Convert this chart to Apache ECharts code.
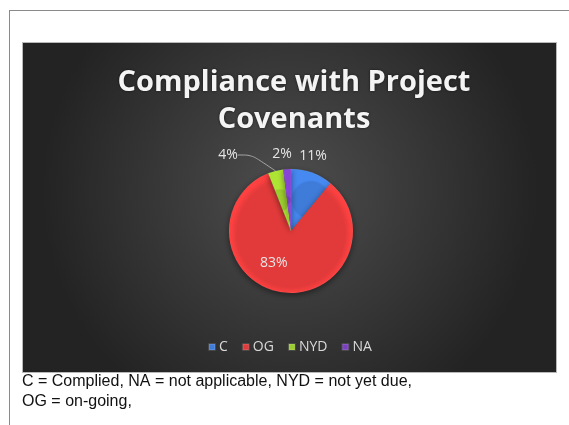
<!DOCTYPE html>
<html>
<head>
<meta charset="utf-8">
<script src="https://cdn.jsdelivr.net/npm/echarts@6/dist/echarts.min.js"></script>
<style>
html,body{margin:0;padding:0;background:#fff;}
#chart{width:569px;height:425px;}
</style>
</head>
<body>
<div id="chart"></div>
<script>
var categories = ['C', 'OG', 'NYD', 'NA'];
var values = [11, 83, 4, 2];
var colors = ['#3f7bd8', '#e23a3a', '#9ccd2f', '#7a3fc0'];
var titleText = 'Compliance with Project\nCovenants';
var noteLines = ['C = Complied, NA = not applicable, NYD = not yet due,', 'OG = on-going,'];

var chart = echarts.init(document.getElementById('chart'));

// label placement relative to the pie centre (offsets), styling only
var labelSettings = [
  {position: 'outside', line: false, lx: 22, ly: -75},
  {position: 'inside', line: false, dx: -12, dy: -2},
  {position: 'outside', line: true, lx: -63, ly: -76},
  {position: 'outside', line: false, lx: -9, ly: -77}
];
var pieCenter = [291, 231];

var data = categories.map(function (c, i) {
  var s = labelSettings[i];
  return {
    name: c,
    value: values[i],
    itemStyle: {
      color: {
        type: 'radial', x: 0.5, y: 0.5, r: 0.5,
        colorStops: [
          {offset: 0, color: colors[i]},
          {offset: 0.9, color: colors[i]},
          {offset: 1, color: echarts.color.lift(colors[i], -0.12)}
        ]
      }
    },
    label: {position: s.position},
    labelLine: {show: s.line}
  };
});

chart.setOption({
  animation: false,
  graphic: [
    {type: 'line', shape: {x1: 9.5, y1: 10, x2: 9.5, y2: 425}, style: {stroke: '#8a8a8a', lineWidth: 1}},
    {type: 'line', shape: {x1: 9, y1: 10.5, x2: 569, y2: 10.5}, style: {stroke: '#8a8a8a', lineWidth: 1}},
    {
      type: 'rect', z: -10,
      shape: {x: 22.5, y: 42.5, width: 534, height: 330},
      style: {
        fill: {
          type: 'radial', x: 0.5, y: 0.45, r: 0.75,
          colorStops: [
            {offset: 0, color: '#4e4e4e'},
            {offset: 1, color: '#232323'}
          ]
        },
        stroke: '#b8b8b8', lineWidth: 1
      }
    },
    {
      type: 'text', left: 22, top: 372,
      style: {
        text: noteLines.join('\n'),
        font: '16px "Liberation Sans", Arial, sans-serif',
        fill: '#111', lineHeight: 20
      }
    }
  ],
  title: {
    text: titleText,
    left: 289, top: 59, textAlign: 'center',
    textStyle: {
      fontFamily: '"Open Sans", sans-serif',
      fontWeight: 'bold', fontSize: 29, lineHeight: 37,
      color: '#f4f4f4',
      textShadowColor: 'rgba(0,0,0,0.6)', textShadowBlur: 3
    }
  },
  legend: {
    data: categories,
    left: 203, top: 335,
    itemWidth: 6, itemHeight: 6, itemGap: 14,
    icon: 'rect',
    textStyle: {color: '#d9d9d9', fontFamily: '"Open Sans", sans-serif', fontSize: 14, padding: [0, 0, 0, -1]}
  },
  series: [{
    type: 'pie',
    center: pieCenter,
    radius: [0, 62],
    startAngle: 90,
    clockwise: true,
    avoidLabelOverlap: false,
    data: data,
    label: {
      formatter: '{d}%',
      color: '#e6e6e6',
      fontFamily: '"Open Sans", sans-serif',
      fontSize: 14
    },
    labelLine: {length: 6, length2: 14, smooth: 0.3, lineStyle: {color: '#a6a6a6', width: 1}},
    labelLayout: function (p) {
      var s = labelSettings[p.dataIndex];
      if (s.position === 'inside') {
        return {dx: s.dx, dy: s.dy};
      }
      return {x: pieCenter[0] + s.lx, y: pieCenter[1] + s.ly, align: 'center', verticalAlign: 'middle'};
    },
    itemStyle: {
      borderColor: 'rgba(255,255,255,0.12)', borderWidth: 0.5,
      shadowColor: 'rgba(0,0,0,0.5)', shadowBlur: 6, shadowOffsetY: 2
    }
  }]
});
</script>
</body>
</html>
